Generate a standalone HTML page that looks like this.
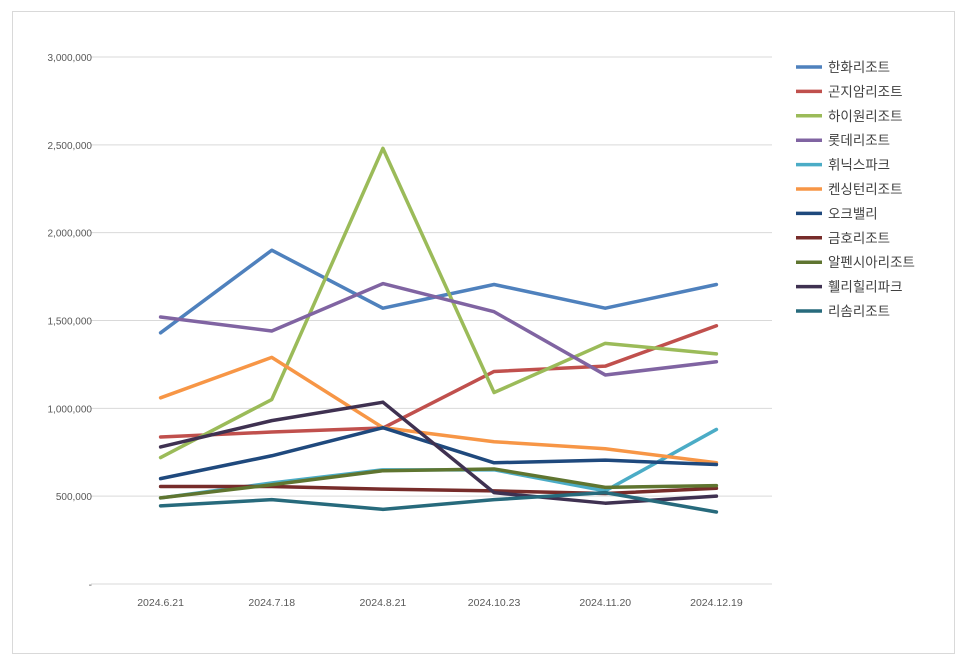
<!DOCTYPE html>
<html><head><meta charset="utf-8"><style>
body{margin:0;background:#fff;font-family:"Liberation Sans","Noto Sans CJK KR",sans-serif;}
svg text{font-family:"Liberation Sans","Noto Sans CJK KR",sans-serif;}
</style></head><body>
<svg id="chart" width="966" height="664" xmlns="http://www.w3.org/2000/svg">
<rect x="12.5" y="11.5" width="942" height="642" fill="#fff" stroke="#d9d9d9"/>
<g id="grid"></g><g id="yticks"></g><g id="xticks"></g><g id="series"></g><g id="legend"></g>
</svg>
<script>
const categories=["2024.6.21","2024.7.18","2024.8.21","2024.10.23","2024.11.20","2024.12.19"];
const yTicks=[0,500000,1000000,1500000,2000000,2500000,3000000];
const yTickLabels=["-","500,000","1,000,000","1,500,000","2,000,000","2,500,000","3,000,000"];
const seriesNames=["한화리조트","곤지암리조트","하이원리조트","롯데리조트","휘닉스파크","켄싱턴리조트","오크밸리","금호리조트","알펜시아리조트","휄리힐리파크","리솜리조트"];
const hanwha=[1430000,1900000,1570000,1705000,1570000,1705000];
const gonjiam=[837000,865000,888000,1210000,1240000,1470000];
const high1=[720000,1050000,2480000,1090000,1370000,1310000];
const lotte=[1520000,1440000,1710000,1550000,1190000,1265000];
const phoenix=[490000,575000,650000,650000,530000,880000];
const kensington=[1060000,1290000,890000,810000,770000,690000];
const oakvalley=[600000,730000,890000,690000,705000,680000];
const kumho=[555000,555000,540000,530000,515000,545000];
const alpensia=[490000,565000,645000,655000,550000,560000];
const welli=[780000,930000,1035000,520000,460000,500000];
const risom=[445000,480000,425000,480000,520000,410000];
const allSeries=[hanwha,gonjiam,high1,lotte,phoenix,kensington,oakvalley,kumho,alpensia,welli,risom];
const colors=["#4F81BD","#C0504D","#9BBB59","#8064A2","#4BACC6","#F79646","#1F497D","#772C2A","#5F7530","#3F3151","#276A7C"];
const NS="http://www.w3.org/2000/svg";
const x0=105,x1=772,yTop=57,yBot=584,yMax=3000000;
const xs=i=>x0+(x1-x0)/categories.length*(i+0.5);
const ys=v=>yBot-(v/yMax)*(yBot-yTop);
function mk(t,a,p){const e=document.createElementNS(NS,t);for(const k in a)e.setAttribute(k,a[k]);p.appendChild(e);return e;}
const grid=document.getElementById('grid'),yt=document.getElementById('yticks'),xt=document.getElementById('xticks'),sg=document.getElementById('series'),lg=document.getElementById('legend');
yTicks.forEach((v,i)=>{
 const l=mk('line',{x1:x0-14,x2:x1,y1:ys(v),y2:ys(v),stroke:'#d9d9d9','stroke-width':1},grid);
 
 
 const t=mk('text',{x:92,y:ys(v)+4,'text-anchor':'end','font-size':10,fill:'#595959'},yt);
 t.textContent=yTickLabels[i];
 
 
});
categories.forEach((c,i)=>{
 const t=mk('text',{x:xs(i),y:606,'text-anchor':'middle','font-size':10.5,fill:'#595959'},xt);
 t.textContent=c;
 
 
});
allSeries.forEach((s,k)=>{
 const p=mk('polyline',{points:s.map((v,i)=>xs(i)+','+ys(v)).join(' '),fill:'none',stroke:colors[k],'stroke-width':3.5,'stroke-linejoin':'round','stroke-linecap':'round'},sg);
 
 
 const y=67+k*24.4;
 const g=mk('g',{},lg);
 
 
 mk('line',{x1:796,x2:822,y1:y,y2:y,stroke:colors[k],'stroke-width':3.5},g);
 const t=mk('text',{x:828,y:y+5,'font-size':13.5,fill:'#404040'},g);
 t.textContent=seriesNames[k];
});
</script>
</body></html>
